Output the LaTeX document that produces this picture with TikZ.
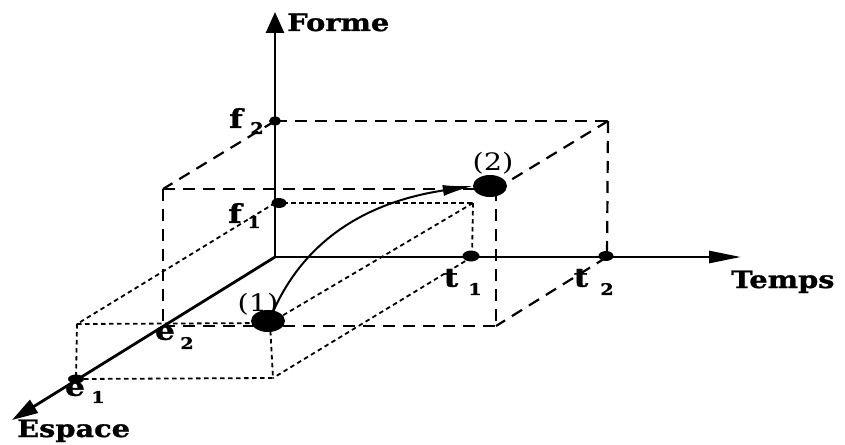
\documentclass[tikz,border=0pt]{standalone}
\usepackage{fontspec}
\newfontfamily\lab[FakeStretch=1.2, BoldFeatures={FakeBold=1.2}]{DejaVu Serif}
\usetikzlibrary{arrows.meta,shapes.geometric}
\begin{document}
\begin{tikzpicture}[x=1pt,y=-1pt,
  axis/.style={line width=2.8pt},
  bigbox/.style={line width=2.2pt, dash pattern=on 12pt off 8pt},
  smallbox/.style={line width=1.8pt, dash pattern=on 4.5pt off 3.5pt},
  dotpt/.style={ellipse, fill, draw=none, inner sep=0pt, minimum width=15pt, minimum height=10pt},
  ball/.style={ellipse, fill, draw=none, inner sep=0pt, minimum width=34pt, minimum height=22pt},
  lbl/.style={font=\lab\bfseries\fontsize{24}{24}\selectfont, inner sep=0pt},
  letlbl/.style={font=\lab\bfseries\fontsize{26}{26}\selectfont, inner sep=0pt},
  sublbl/.style={font=\lab\bfseries\fontsize{16}{16}\selectfont, inner sep=0pt},
  numlbl/.style={font=\lab\fontsize{24}{24}\selectfont, inner sep=0pt}]
\useasboundingbox (0,0) rectangle (845,444);
% axis end points
\coordinate (O) at (275,257);
\coordinate (Ftip) at (275,12);
\coordinate (Ttip) at (741,257);
\coordinate (Etip) at (12,420);
% big box corners
\coordinate (F2) at (275,121);
\coordinate (TBR) at (608,121);
\coordinate (T2) at (607,257);
\coordinate (E2) at (163,326);
\coordinate (FTL) at (163,189);
\coordinate (FTR) at (496,189);
\coordinate (FBR) at (496,326);
% small box corners
\coordinate (F1) at (275,203);
\coordinate (TBRs) at (473,203);
\coordinate (T1) at (472,257);
\coordinate (E1) at (76,379);
\coordinate (FTLs) at (77,324);
\coordinate (FTRs) at (270,323);
\coordinate (FBRs) at (273,378);
% big box
\draw[bigbox] (F2) -- (TBR);
\draw[bigbox] (TBR) -- (T2);
\draw[bigbox] (TBR) -- (FTR);
\draw[bigbox] (F2) -- (FTL);
\draw[bigbox] (FTL) -- (FTR);
\draw[bigbox] (FTL) -- (E2);
\draw[bigbox] (FTR) -- (FBR);
\draw[bigbox] (E2) -- (FBR);
\draw[bigbox] (T2) -- (FBR);
% small box
\draw[smallbox] (F1) -- (TBRs);
\draw[smallbox] (TBRs) -- (T1);
\draw[smallbox] (TBRs) -- (FTRs);
\draw[smallbox] (F1) -- (FTLs);
\draw[smallbox] (FTLs) -- (FTRs);
\draw[smallbox] (FTLs) -- (E1);
\draw[smallbox] (FTRs) -- (FBRs);
\draw[smallbox] (E1) -- (FBRs);
\draw[smallbox] (T1) -- (FBRs);
% axes
\draw[axis,-{Triangle[length=21pt,width=18pt]}] (O) -- (Ftip);
\draw[axis,-{Triangle[length=32pt,width=12pt]}] (O) -- (Ttip);
\draw[axis,-{Triangle[length=26pt,width=15pt]}] (O) -- (Etip);
% dots
\node[dotpt, minimum width=12pt, minimum height=9pt] (df2) at (F2) {};
\node[dotpt] (df1) at (279,203) {};
\node[dotpt, minimum width=17pt, minimum height=11pt] (dt1) at (471,256) {};
\node[dotpt] (dt2) at (606,256) {};
\node[dotpt, minimum width=16pt, minimum height=9pt] (de1) at (E1) {};
% balls
\node[ball] (b1) at (268,321) {};
\node[ball] (b2) at (490,186) {};
\draw[line width=2pt, -{Latex[length=30pt,width=11pt]}] (b1.62) .. controls (310,230) and (380,200) .. (b2.west);
% labels
\node[letlbl] (lf2) at (236,118) {f};
\node[sublbl] (sf2) at (257,128) {2};
\node[letlbl] (lf1) at (235,213) {f};
\node[sublbl] (sf1) at (254,222) {1};
\node[letlbl] (le2) at (165,333) {e};
\node[sublbl] (se2) at (187,343) {2};
\node[letlbl] (le1) at (75,389) {e};
\node[sublbl] (se1) at (98,397) {1};
\node[letlbl] (lt1) at (451,278) {t};
\node[sublbl] (st1) at (475,289) {1};
\node[letlbl] (lt2) at (581,278) {t};
\node[sublbl] (st2) at (607,289) {2};
\node[lbl, anchor=base west] (forme) at (287,31) {Forme};
\node[lbl, anchor=base west] (temps) at (731,288) {Temps};
\node[lbl, anchor=base west] (espace) at (17,437) {Espace};
\node[numlbl] (n1) at (258,304) {(1)};
\node[numlbl] (n2) at (493,163) {(2)};
\end{tikzpicture}
\end{document}
